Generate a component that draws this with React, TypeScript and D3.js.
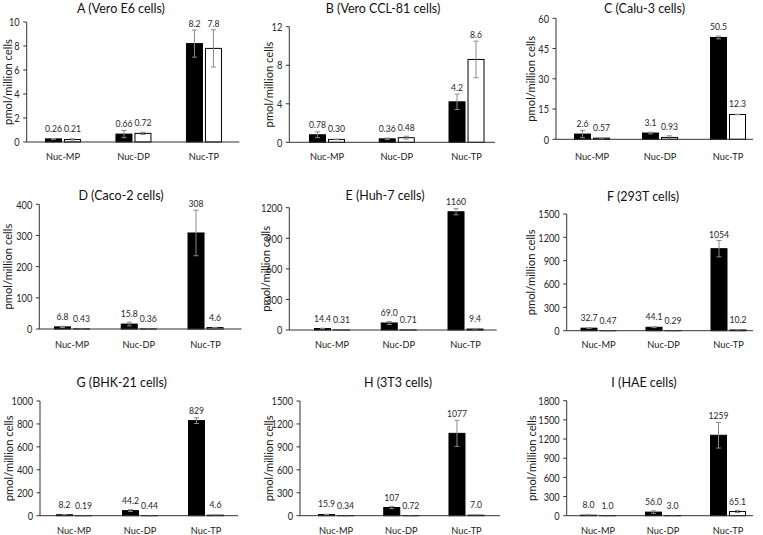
import React from "react";
import * as d3 from "d3";

const CATEGORIES = ["Nuc-MP", "Nuc-DP", "Nuc-TP"];
const TITLES = [
  "A (Vero E6 cells)", "B (Vero CCL-81 cells)", "C (Calu-3 cells)",
  "D (Caco-2 cells)", "E (Huh-7 cells)", "F (293T cells)",
  "G (BHK-21 cells)", "H (3T3 cells)", "I (HAE cells)",
];
const Y_LABEL = "pmol/million cells";
const Y_MAX = [10, 12, 60, 400, 1200, 1500, 1000, 1500, 1800];
const Y_STEP = [2, 4, 15, 100, 300, 300, 200, 300, 300];

// black series
const SERIES_BLACK = [
  [0.26, 0.66, 8.2],
  [0.78, 0.36, 4.2],
  [2.6, 3.1, 50.5],
  [6.8, 15.8, 308],
  [14.4, 69.0, 1160],
  [32.7, 44.1, 1054],
  [8.2, 44.2, 829],
  [15.9, 107, 1077],
  [8.0, 56.0, 1259],
];
// white series
const SERIES_WHITE = [
  [0.21, 0.72, 7.8],
  [0.30, 0.48, 8.6],
  [0.57, 0.93, 12.3],
  [0.43, 0.36, 4.6],
  [0.31, 0.71, 9.4],
  [0.47, 0.29, 10.2],
  [0.19, 0.44, 4.6],
  [0.34, 0.72, 7.0],
  [1.0, 3.0, 65.1],
];
const ERR_BLACK = [
  [0.04, 0.3, 1.13],
  [0.3, 0.08, 0.8],
  [1.8, 0.4, 0.7],
  [2, 6, 73],
  [3, 15, 30],
  [5, 5, 105],
  [1, 8, 25],
  [2, 15, 170],
  [2, 20, 200],
];
const ERR_WHITE = [
  [0.05, 0.1, 1.55],
  [0.03, 0.15, 1.9],
  [0.2, 0.8, 0.1],
  [0.1, 0.1, 1],
  [0.1, 0.1, 2],
  [0.1, 0.1, 2],
  [0.05, 0.1, 1],
  [0.1, 0.1, 1],
  [0.5, 1, 15],
];

// layout (pixel geometry per panel)
const LAYOUT = [
  { ax: 26.7, axEnd: 239.3, top: 22, zero: 142, band: [27.7, 239.2], ylabX: 7, titleX: 121, titleY: 12.5, catY: 160 },
  { ax: 289.3, axEnd: 495, top: 26.7, zero: 142.3, band: [292.1, 501.4], ylabX: 268, titleX: 383, titleY: 12.5, catY: 160 },
  { ax: 556, axEnd: 753, top: 18.3, zero: 139.3, band: [558, 762], ylabX: 530.5, titleX: 644.5, titleY: 12.5, catY: 160 },
  { ax: 39.3, axEnd: 241.7, top: 204.3, zero: 329, band: [38.6, 238.9], ylabX: 7, titleX: 121, titleY: 199.5, catY: 348 },
  { ax: 289.3, axEnd: 496.7, top: 207.7, zero: 330, band: [298.6, 498.9], ylabX: 265, titleX: 385, titleY: 199.5, catY: 348 },
  { ax: 566.7, axEnd: 753, top: 214, zero: 330.7, band: [566, 761], ylabX: 530, titleX: 643, titleY: 201, catY: 348 },
  { ax: 40, axEnd: 238, top: 401, zero: 515.7, band: [41, 239], ylabX: 8, titleX: 121.7, titleY: 386.5, catY: 534 },
  { ax: 300, axEnd: 500, top: 401, zero: 515.7, band: [303.4, 499.1], ylabX: 268.5, titleX: 398, titleY: 386.5, catY: 534 },
  { ax: 566.7, axEnd: 753, top: 400.7, zero: 515.7, band: [565.5, 760.5], ylabX: 531.5, titleX: 644, titleY: 386.5, catY: 534 },
];

const FONT = "Lato, 'Open Sans', sans-serif";
const fmt = (v: number) => (v >= 100 ? d3.format(".0f")(v) : v >= 1 ? d3.format(".1f")(v) : d3.format(".2f")(v));

function T({ x, y, sx = 1, rot = 0, children, ...rest }: any) {
  return (
    <text transform={`translate(${x},${y}) rotate(${rot}) scale(${sx},1)`} {...rest}>
      {children}
    </text>
  );
}

function Panel({ i }: { i: number }) {
  const L = LAYOUT[i];
  const y = d3.scaleLinear().domain([0, Y_MAX[i]]).range([L.zero, L.top]);
  const x = d3.scaleBand().domain(CATEGORIES).range(L.band as [number, number]).padding(0);
  const ticks = d3.range(0, Y_MAX[i] + Y_STEP[i] / 2, Y_STEP[i]);
  const barW = 16;
  const gap = 1.5;
  const yMid = (L.top + L.zero) / 2;
  const series = [
    { vals: SERIES_BLACK[i], errs: ERR_BLACK[i], fill: "#000", off: -gap - barW },
    { vals: SERIES_WHITE[i], errs: ERR_WHITE[i], fill: "#fff", off: gap },
  ];
  return (
    <g>
      <T x={L.titleX} y={L.titleY} textAnchor="middle" fontSize={12.5} fill="#111">{TITLES[i]}</T>
      <T x={L.ylabX} y={yMid} rot={-90} textAnchor="middle" dominantBaseline="central" fontSize={11.2} fill="#1a1a1a">{Y_LABEL}</T>
      {ticks.map((t) => (
        <g key={t}>
          <line x1={L.ax - 3.5} x2={L.ax} y1={y(t)} y2={y(t)} stroke="#333" strokeWidth={1} />
          <T x={L.ax - 7} y={y(t)} sx={0.88} textAnchor="end" dominantBaseline="central" fontSize={10.5} fill="#262626">{t}</T>
        </g>
      ))}
      {CATEGORIES.map((c, k) => {
        const cx = (x(c) as number) + x.bandwidth() / 2;
        return (
          <g key={c}>
            {series.map((s, j) => {
              const v = s.vals[k];
              const e = s.errs[k];
              const bx = cx + s.off;
              const bt = y(v);
              const et = y(v + e);
              const eb = y(Math.max(0, v - e));
              const ex = bx + barW / 2;
              const ly = Math.min(et - 3, bt - 7);
              return (
                <g key={j}>
                  <rect x={bx} y={bt} width={barW} height={L.zero - bt} fill={s.fill} stroke="#000" strokeWidth={1} />
                  <line x1={ex} x2={ex} y1={et} y2={eb} stroke="#8a8a8a" strokeWidth={1} />
                  <line x1={ex - 2.5} x2={ex + 2.5} y1={et} y2={et} stroke="#8a8a8a" strokeWidth={1} />
                  <line x1={ex - 2.5} x2={ex + 2.5} y1={eb} y2={eb} stroke="#8a8a8a" strokeWidth={1} />
                  <T x={ex} y={ly} sx={0.88} textAnchor="middle" fontSize={9.8} fill="#262626">{fmt(v)}</T>
                </g>
              );
            })}
            <T x={cx} y={L.catY} sx={0.9} textAnchor="middle" fontSize={10.3} fill="#1a1a1a">{c}</T>
          </g>
        );
      })}
      <line x1={L.ax} x2={L.ax} y1={L.top} y2={L.zero} stroke="#333" strokeWidth={1} />
      <line x1={L.ax} x2={L.axEnd} y1={L.zero} y2={L.zero} stroke="#333" strokeWidth={1} />
    </g>
  );
}

export default function App() {
  return (
    <svg width={763} height={535} style={{ position: "absolute", left: 0, top: 0, background: "#fff" }} fontFamily={FONT}>
      <rect width={763} height={535} fill="#fff" />
      {TITLES.map((_, i) => <Panel key={i} i={i} />)}
    </svg>
  );
}
